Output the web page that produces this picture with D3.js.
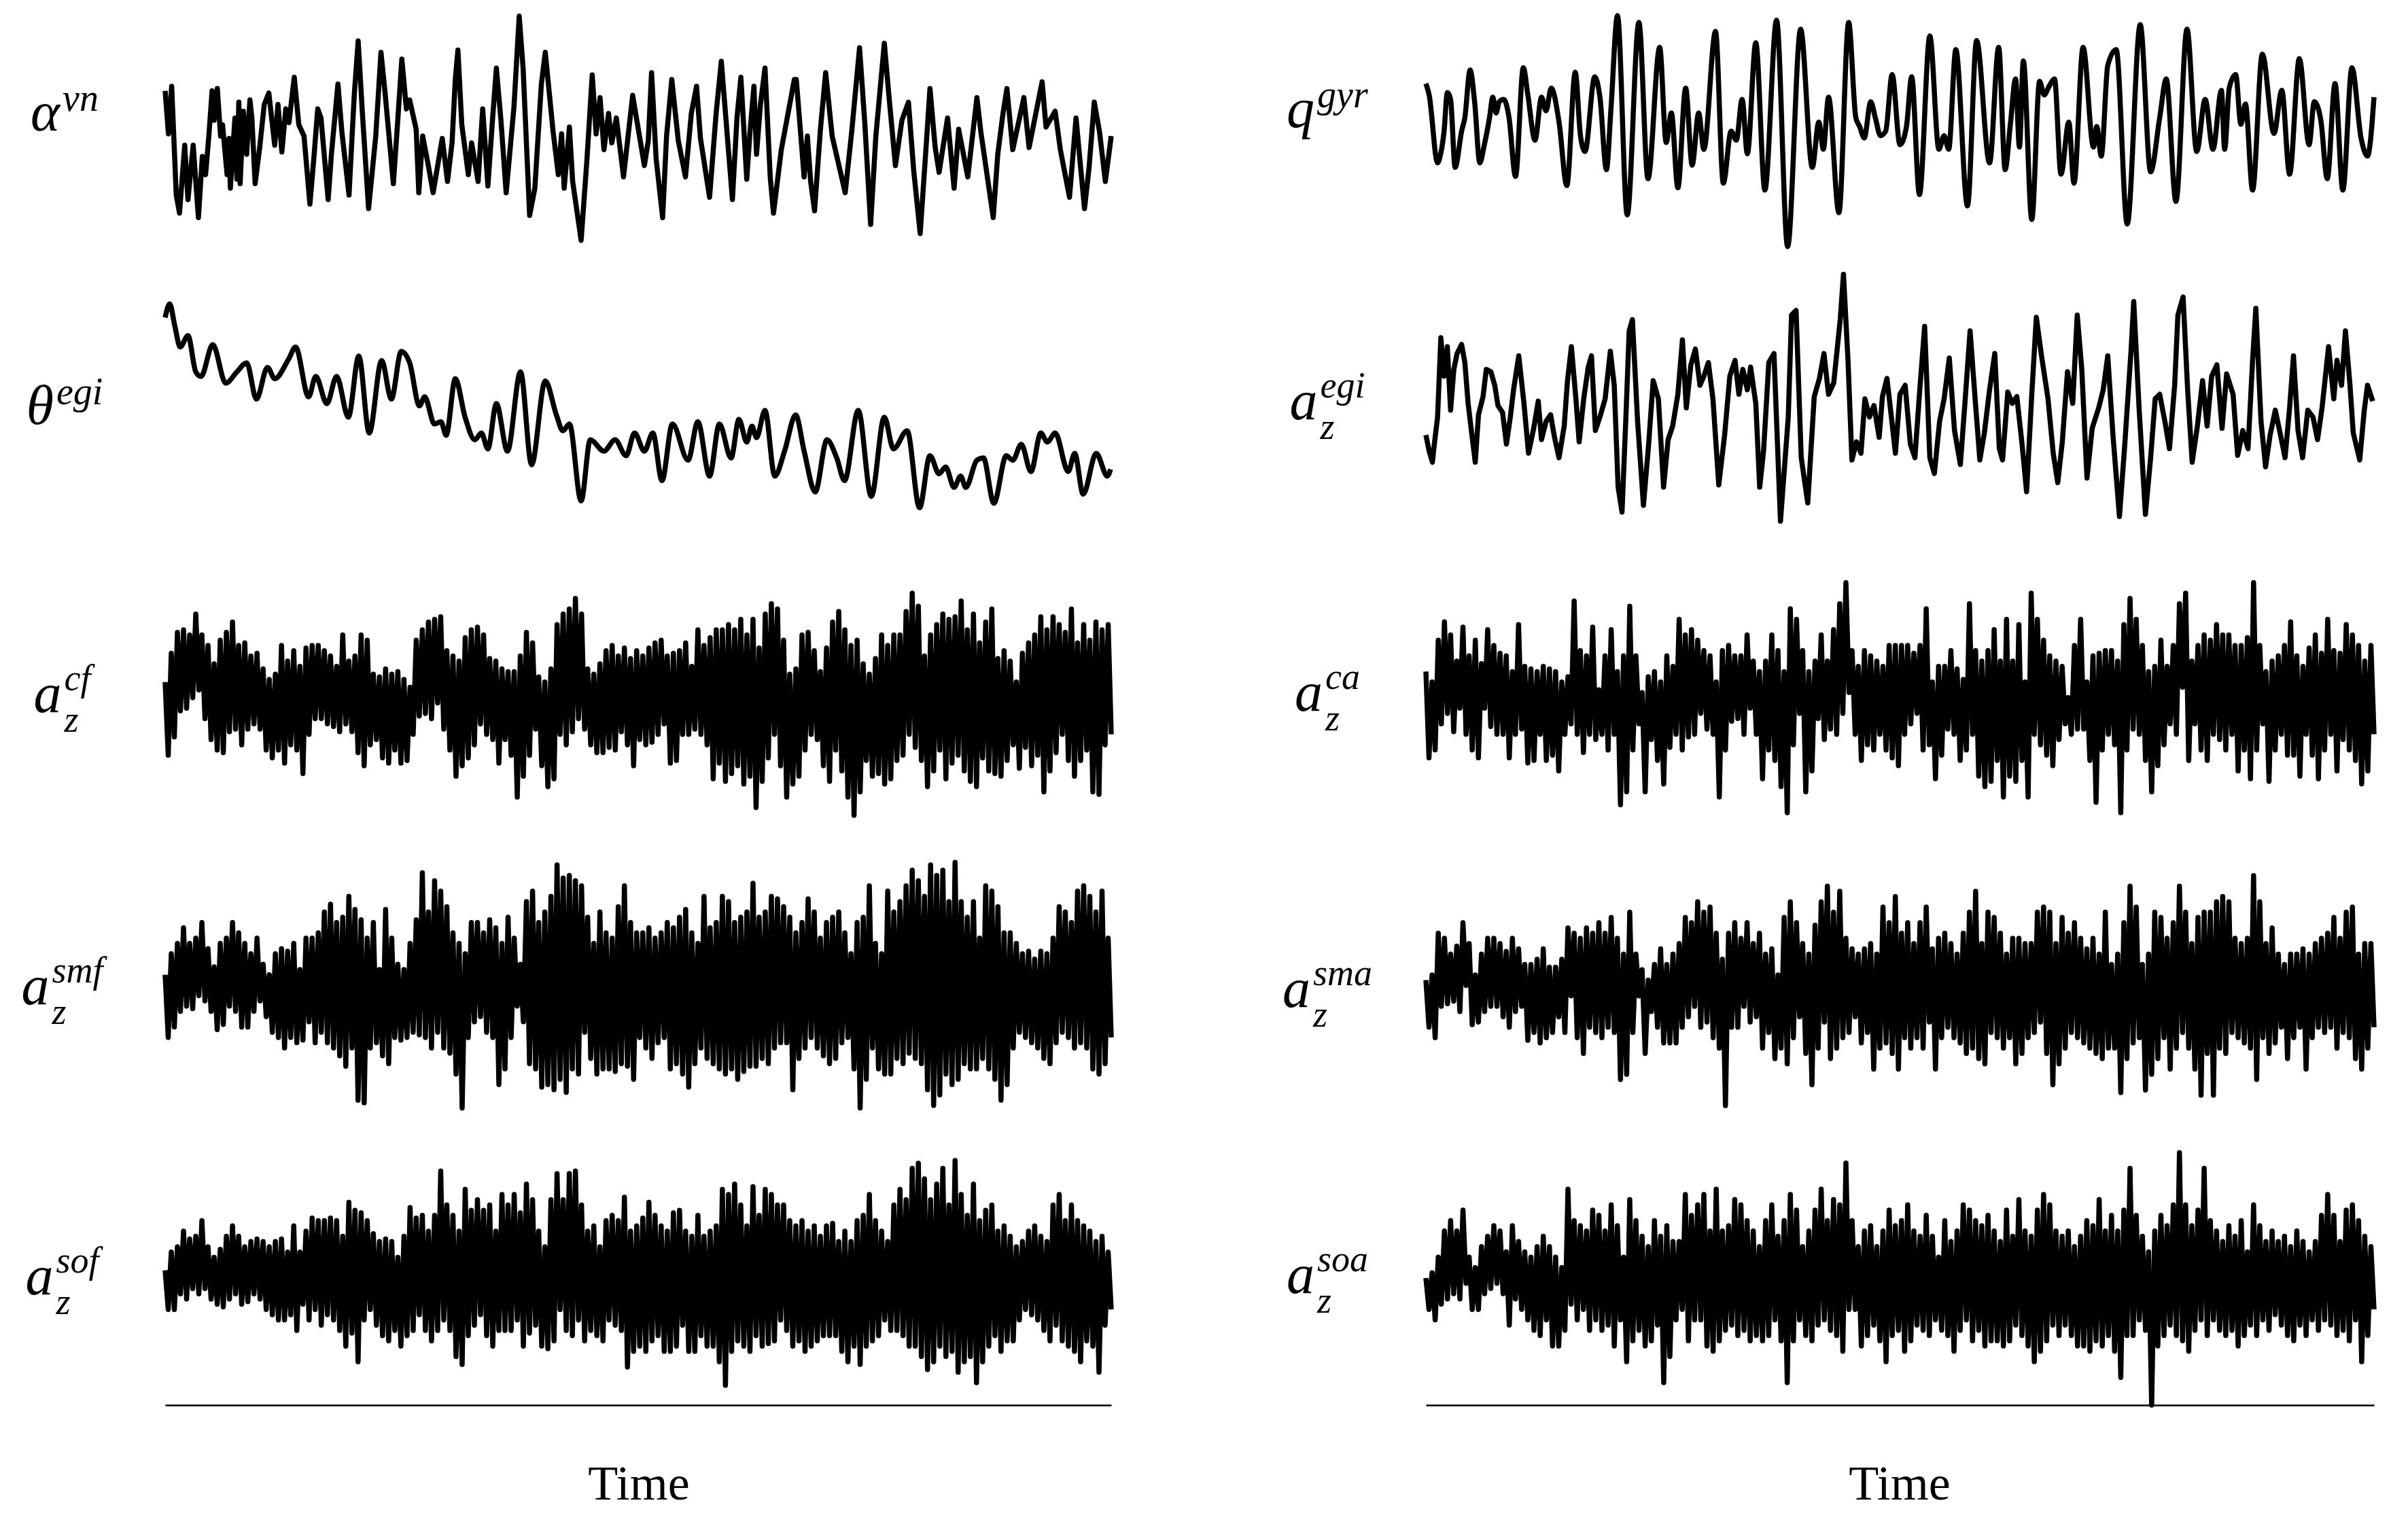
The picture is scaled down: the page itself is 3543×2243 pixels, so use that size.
<!DOCTYPE html>
<html><head><meta charset="utf-8">
<script src="https://cdn.jsdelivr.net/npm/d3@7"></script>
<style>html,body{margin:0;padding:0;background:#fff;} svg{display:block;}</style>
</head><body>
<script>
// ---------- DATA (arbitrary signal units) ----------
const categories = ["alpha_vn","theta_egi","az_cf","az_smf","az_sof","q_gyr","az_egi","az_ca","az_sma","az_soa"];
const labelMain = ["α","θ","a","a","a","q","a","a","a","a"];
const labelSup  = ["vn","egi","cf","smf","sof","gyr","egi","ca","sma","soa"];
const labelSub  = ["","","z","z","z","","z","z","z","z"];
const axisTitle = "Time";

// smooth signals: [time, value]
const alphaVn = [[0,16],[5,-3],[10,18],[17,-30],[22,-38],[30,-8],[35,-32],[43,-8],[51,-40],[57,-13],[62,-21],[67,-4],[72,16],[75,3],[80,17],[85,-4],[88,1],[95,-21],[98,-5],[100,-27],[107,4],[110,-23],[113,11],[115,-25],[120,7],[125,-12],[130,12],[133,4],[138,-25],[145,-9],[152,10],[159,15],[168,-8],[173,10],[179,-11],[185,8],[190,2],[198,22],[205,1],[213,-4],[222,-34],[228,-14],[234,8],[239,4],[250,-32],[255,-12],[265,19],[271,-2],[282,-30],[290,14],[296,38],[303,4],[312,-36],[323,-4],[331,33],[337,16],[350,-25],[357,4],[363,30],[370,8],[375,12],[385,-1],[389,-29],[395,-4],[403,-16],[411,-29],[425,-5],[433,-24],[440,-7],[445,21],[449,34],[455,1],[465,-21],[470,-7],[480,-24],[487,8],[495,-26],[502,3],[508,26],[515,3],[523,-29],[535,9],[543,49],[549,26],[559,-39],[567,-27],[577,19],[583,33],[595,-2],[603,-21],[608,-3],[612,-27],[620,0],[625,-24],[638,-50],[647,-14],[655,23],[661,-3],[667,13],[673,-10],[680,6],[685,-7],[692,4],[703,-22],[710,-4],[717,14],[735,-17],[741,-6],[746,24],[753,-14],[763,-40],[769,-4],[777,21],[787,-6],[798,-22],[807,6],[815,18],[821,-5],[835,-31],[845,6],[853,29],[870,-32],[877,4],[883,22],[892,-23],[897,-2],[903,18],[907,-12],[913,10],[920,26],[928,-22],[933,-38],[945,-10],[965,21],[968,21],[980,-22],[985,-4],[990,-24],[996,-37],[1005,-1],[1013,24],[1023,-4],[1043,-29],[1053,-2],[1065,35],[1073,2],[1082,-43],[1090,-4],[1103,37],[1110,14],[1120,-17],[1130,3],[1140,11],[1148,-19],[1158,-47],[1167,-9],[1173,17],[1181,-9],[1187,-20],[1200,4],[1210,-27],[1217,-1],[1231,-22],[1245,13],[1251,-2],[1270,-40],[1277,-12],[1285,6],[1291,17],[1300,-10],[1317,13],[1325,-9],[1345,20],[1351,0],[1365,7],[1373,-10],[1387,-31],[1397,4],[1410,-36],[1417,-18],[1425,11],[1433,-2],[1442,-24],[1451,-4]];

const thetaEgi = [[0,38],[7,44],[15,34],[23,25],[35,30],[47,14],[55,12],[73,26],[93,9],[110,14],[125,18],[140,2],[157,16],[168,11],[190,20],[200,25],[220,3],[231,12],[248,0],[263,12],[281,-6],[297,21],[313,-13],[332,19],[347,2],[362,23],[375,18],[390,-1],[398,3],[413,-9],[423,-8],[431,-14],[445,11],[460,-6],[475,-16],[485,-13],[495,-20],[508,0],[525,-21],[545,14],[562,-27],[583,10],[600,-5],[610,-12],[620,-9],[638,-43],[652,-16],[673,-21],[690,-16],[707,-23],[720,-13],[735,-21],[748,-13],[762,-34],[778,-9],[802,-25],[817,-8],[835,-32],[850,-9],[868,-24],[880,-7],[892,-17],[900,-10],[907,-15],[920,-3],[935,-32],[950,-21],[967,-5],[980,-21],[997,-39],[1015,-16],[1030,-24],[1042,-34],[1063,-3],[1083,-41],[1103,-6],[1117,-20],[1138,-12],[1157,-46],[1173,-23],[1187,-31],[1197,-28],[1210,-37],[1220,-32],[1228,-37],[1245,-25],[1255,-24],[1271,-44],[1290,-23],[1300,-25],[1313,-18],[1328,-30],[1343,-13],[1353,-17],[1365,-13],[1385,-30],[1395,-22],[1408,-40],[1428,-22],[1445,-32],[1450,-29]];

const qGyr = [[0,21],[5,16],[18,-14],[22,-11],[28,0],[33,17],[38,14],[45,-16],[55,0],[60,6],[68,27],[75,13],[83,-14],[90,-6],[98,6],[103,15],[108,8],[113,13],[120,14],[128,6],[138,-20],[150,28],[157,16],[168,-4],[178,15],[185,9],[193,19],[205,4],[217,-24],[230,26],[238,-2],[245,-9],[260,24],[268,15],[278,-17],[285,10],[295,51],[310,-37],[328,48],[342,-21],[360,37],[370,-5],[378,8],[388,-25],[400,19],[410,-15],[420,8],[428,-8],[446,44],[458,-23],[470,0],[478,-4],[487,14],[495,-10],[508,39],[522,-26],[540,49],[557,-51],[577,45],[595,-16],[605,4],[612,-8],[620,15],[636,-36],[651,48],[662,6],[668,2],[675,-3],[685,13],[692,6],[700,-2],[708,0],[718,25],[730,-6],[740,2],[748,24],[760,-28],[776,42],[790,-8],[798,-2],[805,-8],[816,36],[834,-33],[848,40],[868,-14],[882,37],[892,-17],[900,3],[908,23],[914,-7],[920,31],[933,-39],[945,22],[952,16],[960,20],[968,23],[978,-19],[990,4],[998,-23],[1012,37],[1028,-7],[1033,2],[1040,-11],[1050,29],[1063,36],[1080,-41],[1100,47],[1116,-18],[1130,6],[1140,23],[1155,-31],[1172,45],[1187,-9],[1200,14],[1212,-8],[1225,18],[1230,-8],[1237,19],[1247,25],[1255,3],[1262,12],[1273,-26],[1288,34],[1306,-1],[1318,18],[1330,-19],[1345,32],[1360,-6],[1368,13],[1378,5],[1388,-21],[1400,21],[1412,-26],[1426,28],[1440,-3],[1450,-11],[1460,15]];

const azEgi = [[0,-16],[5,-23],[10,-28],[13,-20],[18,-8],[23,27],[28,10],[33,23],[38,-5],[43,13],[48,20],[55,24],[60,16],[65,-2],[70,-14],[76,-28],[81,-7],[88,1],[93,13],[100,12],[106,6],[111,-3],[118,-6],[124,-20],[130,-8],[135,4],[143,19],[151,-2],[158,-24],[166,-13],[173,-1],[178,-18],[185,-10],[192,-7],[198,-17],[205,-26],[213,-12],[218,8],[224,23],[231,0],[236,-19],[243,0],[250,14],[255,19],[261,-14],[268,-8],[276,0],[284,21],[290,6],[296,-39],[302,-50],[308,-8],[313,30],[318,35],[326,-10],[335,-47],[343,-20],[350,8],[358,0],[366,-39],[373,-18],[380,-12],[388,2],[395,26],[401,-4],[408,15],[415,22],[422,6],[428,10],[435,16],[442,0],[451,-38],[460,-16],[468,10],[476,17],[482,2],[488,13],[495,4],[500,14],[508,-2],[514,-39],[520,-23],[528,16],[536,20],[546,-54],[558,-8],[563,37],[570,39],[578,-26],[588,-46],[598,1],[606,9],[613,20],[620,2],[628,7],[638,35],[643,55],[650,17],[656,-27],[663,-19],[670,-24],[676,0],[683,-8],[690,-3],[698,-17],[703,1],[710,9],[716,-6],[723,-24],[730,2],[738,6],[746,-20],[753,-26],[760,2],[768,32],[776,-26],[783,-33],[791,-10],[798,0],[806,18],[814,-14],[823,-29],[830,-2],[838,30],[846,-1],[853,-27],[860,-15],[868,4],[876,20],[883,-22],[888,-27],[896,3],[903,-2],[910,1],[918,-20],[925,-41],[933,2],[940,36],[948,19],[958,0],[966,-24],[973,-37],[980,-19],[988,12],[996,-2],[1003,37],[1010,13],[1018,-35],[1026,-13],[1036,-4],[1043,4],[1050,19],[1058,-16],[1068,-52],[1076,-21],[1086,22],[1090,43],[1098,-3],[1108,-51],[1116,-26],[1123,0],[1130,2],[1138,-10],[1145,-22],[1153,6],[1158,37],[1166,45],[1173,4],[1180,-28],[1188,-12],[1196,8],[1203,-12],[1210,10],[1218,15],[1226,-13],[1233,11],[1243,2],[1250,-25],[1258,-14],[1266,-22],[1273,17],[1278,40],[1286,-10],[1293,-30],[1300,-16],[1308,-5],[1316,-16],[1323,-26],[1330,-4],[1336,19],[1343,-14],[1350,-26],[1358,-5],[1366,-8],[1373,-18],[1380,-4],[1390,23],[1398,0],[1403,17],[1410,6],[1416,30],[1423,6],[1428,-15],[1438,-27],[1445,-5],[1450,6],[1458,-1]];

// dense signals: successive local maxima / minima, equally spaced in time
const cfPeaks = [47,102,142,147,137,177,137,117,82,127,142,162,117,122,97,102,72,52,62,117,87,107,77,112,117,117,107,97,77,137,87,97,137,127,62,57,72,62,67,52,37,127,147,162,167,172,107,97,87,132,147,152,137,92,87,72,67,67,97,142,122,57,47,72,157,177,187,207,177,72,62,82,107,117,97,112,92,107,97,112,122,127,97,102,107,122,77,147,117,132,147,147,157,147,167,137,167,112,177,197,187,127,62,72,137,142,107,67,112,162,182,147,117,127,82,62,92,137,117,137,137,182,217,192,97,137,157,177,167,172,202,147,177,122,162,187,92,107,87,47,102,122,137,172,147,172,157,142,187,122,157,127,162,147,157];
const cfTroughs = [-93,-58,-8,-3,17,32,-23,-63,-83,-88,-48,-43,-73,-43,-33,-43,-83,-98,-83,-108,-73,-83,-128,-53,-23,-23,-33,-38,-48,-33,-48,-88,-113,-73,-63,-98,-108,-83,-108,-103,-53,-18,-13,-23,7,-43,-83,-133,-113,-98,-73,-33,-53,-63,-108,-63,-93,-173,-133,-93,-43,-113,-153,-138,-53,-73,-48,-23,-43,-73,-88,-88,-78,-83,-48,-73,-113,-63,-73,-68,-53,-33,-108,-103,-53,-53,-43,-53,-73,-138,-108,-143,-128,-113,-148,-133,-193,-143,-98,-53,-113,-173,-148,-133,-83,-53,-63,-113,-143,-83,-123,-173,-208,-163,-103,-133,-128,-148,-138,-103,-93,-53,-78,-103,-153,-123,-83,-138,-108,-93,-123,-143,-153,-98,-123,-128,-133,-103,-73,-118,-78,-113,-93,-163,-123,-88,-53,-103,-133,-103,-83,-163,-168,-73,-53];

const smfPeaks = [20,60,80,110,80,90,120,70,35,80,90,120,100,80,60,90,40,20,60,70,65,80,30,90,90,100,140,155,120,130,170,145,125,90,120,30,145,90,40,30,80,125,215,140,200,180,150,100,80,60,120,120,100,125,110,80,130,90,40,160,180,120,140,170,230,205,210,200,190,130,80,140,100,90,150,190,120,100,100,110,90,100,120,110,130,145,100,80,170,110,120,170,160,120,130,140,195,130,140,170,165,150,130,100,120,165,140,90,120,130,140,100,60,120,130,190,80,60,180,140,160,190,220,200,170,230,210,220,160,235,160,130,160,90,190,180,150,100,100,80,60,65,50,65,60,90,150,140,120,180,190,170,140,180,90];
const smfTroughs = [-100,-80,-50,-40,-45,-20,-30,-50,-85,-75,-40,-50,-80,-80,-50,-30,-60,-90,-100,-120,-100,-110,-105,-70,-110,-90,-110,-120,-135,-155,-120,-220,-225,-120,-110,-135,-150,-100,-105,-100,-90,-95,-100,-120,-90,-120,-130,-170,-235,-100,-70,-60,-90,-100,-190,-160,-100,-40,-70,-150,-160,-195,-190,-200,-180,-205,-160,-170,-90,-140,-170,-160,-160,-165,-150,-155,-180,-100,-120,-140,-110,-100,-160,-150,-170,-195,-150,-120,-140,-150,-160,-170,-160,-180,-165,-155,-155,-140,-150,-120,-110,-110,-200,-140,-120,-100,-120,-135,-150,-140,-110,-100,-160,-235,-180,-120,-160,-170,-170,-140,-150,-130,-140,-150,-200,-230,-210,-170,-190,-180,-150,-160,-160,-140,-160,-180,-220,-190,-120,-90,-100,-110,-120,-140,-150,-110,-90,-100,-120,-110,-120,-160,-170,-150,-100];

const sofPeaks = [7,42,52,82,67,72,102,52,32,47,72,92,72,52,62,67,62,52,62,67,42,92,42,82,107,102,102,107,102,72,137,122,117,102,77,62,67,62,32,72,127,107,112,82,112,197,132,112,82,162,122,142,122,132,82,152,132,152,117,172,142,82,52,142,192,142,192,197,132,82,92,52,102,112,102,147,82,92,107,137,112,92,82,117,122,82,72,112,72,82,92,162,152,172,132,92,167,112,162,152,132,132,102,92,102,82,92,72,92,97,62,82,62,102,112,152,102,82,62,132,162,142,202,212,182,142,172,202,132,217,152,112,172,102,122,132,82,92,72,52,62,82,92,72,62,132,152,102,132,102,92,82,62,72,42];
const sofTroughs = [-68,-68,-38,-48,-28,-38,-28,-48,-58,-63,-48,-38,-58,-53,-38,-48,-68,-78,-88,-88,-78,-108,-58,-88,-68,-98,-78,-88,-108,-138,-113,-168,-88,-68,-98,-118,-128,-108,-138,-118,-108,-78,-108,-128,-108,-88,-108,-158,-173,-118,-98,-78,-118,-138,-108,-108,-108,-88,-138,-113,-98,-138,-143,-128,-68,-108,-118,-88,-128,-108,-118,-128,-88,-98,-108,-178,-148,-138,-148,-128,-118,-148,-148,-138,-98,-148,-148,-118,-138,-138,-168,-213,-148,-128,-138,-148,-118,-138,-133,-128,-88,-108,-138,-128,-148,-138,-128,-118,-118,-118,-148,-168,-138,-173,-138,-128,-118,-88,-108,-108,-118,-138,-138,-158,-183,-168,-138,-158,-148,-188,-168,-158,-208,-168,-138,-118,-148,-128,-128,-88,-68,-78,-88,-108,-128,-98,-128,-138,-148,-168,-128,-138,-188,-98,-68];

const caPeaks = [45,25,105,140,115,65,130,75,105,60,125,95,80,75,45,135,55,50,45,55,50,45,25,35,180,85,75,130,10,75,125,45,75,170,75,5,35,45,25,75,55,145,115,125,105,85,75,25,85,95,75,75,115,65,45,65,115,85,45,165,145,85,45,65,115,65,125,175,215,85,55,85,75,65,55,95,95,95,95,80,95,165,25,55,55,85,50,30,175,85,65,85,125,65,145,65,135,25,195,145,105,75,65,55,-5,95,145,25,75,80,85,85,65,135,185,145,95,45,55,105,55,95,175,195,65,95,115,105,135,115,115,95,95,110,215,95,45,65,75,95,140,75,55,90,115,80,145,85,80,135,115,95,65,95];
const caTroughs = [-120,-105,-55,-35,-70,-25,-75,-105,-120,-25,-60,-75,-75,-120,-75,-65,-130,-125,-75,-125,-115,-145,-75,-55,-75,-110,-75,-85,-75,-105,-75,-210,-185,-105,-55,-185,-85,-125,-170,-100,-75,-105,-80,-75,-35,-65,-75,-195,-105,-50,-45,-75,-25,-75,-160,-105,-125,-175,-225,-95,-35,-185,-145,-45,-85,-65,-75,-35,5,-75,-125,-95,-105,-75,-105,-120,-135,-75,-55,-35,-105,-95,-160,-115,-65,-75,-125,-105,-75,-155,-175,-165,-125,-195,-155,-165,-125,-195,-75,-95,-115,-135,-85,-55,-75,-65,-65,-125,-205,-105,-75,-95,-225,-105,-65,-75,-125,-185,-135,-95,-55,-75,15,-125,-55,-105,-125,-75,-85,-105,-75,-145,-105,-160,-105,-55,-165,-105,-75,-115,-115,-155,-75,-115,-160,-105,-75,-145,-85,-105,-125,-170,-145,-75];

const smaPeaks = [20,30,110,100,70,85,130,90,30,70,100,100,90,75,100,80,50,50,60,80,45,45,60,120,110,100,120,110,130,110,140,100,70,150,70,40,20,50,80,50,70,90,140,130,170,150,160,110,60,110,130,100,130,90,110,70,80,30,140,170,130,90,70,125,170,200,150,190,100,80,70,80,90,70,160,130,180,110,130,90,130,160,80,100,110,90,70,110,150,190,90,150,140,110,70,100,100,90,90,150,160,150,90,140,110,130,100,80,100,70,150,50,70,130,200,160,50,70,150,140,100,130,200,150,90,140,150,150,170,180,170,100,90,100,220,170,90,120,70,50,70,70,80,70,90,100,110,140,100,150,160,70,90,90];
const smaTroughs = [-70,-90,-30,-25,-20,-40,10,-65,-60,-40,-30,-30,-50,-70,-40,-30,-95,-80,-100,-90,-80,-50,-80,-10,-90,-120,-70,-80,-90,-70,-80,-170,-160,-80,-10,-120,-40,-70,-100,-100,-100,-70,-50,-30,-70,-60,-90,-110,-220,-70,-70,-30,-60,-50,-110,-80,-130,-110,-140,-90,-50,-120,-180,-110,-60,-130,-110,-90,-80,-50,-100,-80,-150,-110,-100,-120,-150,-90,-110,-90,-110,-60,-150,-90,-70,-90,-100,-120,-110,-130,-140,-80,-90,-110,-90,-140,-120,-90,-80,-60,-120,-180,-140,-110,-80,-90,-100,-110,-120,-130,-110,-110,-195,-130,-100,-90,-190,-160,-130,-90,-150,-110,-80,-110,-150,-200,-120,-200,-110,-120,-80,-90,-100,-110,-170,-90,-120,-100,-70,-130,-90,-70,-150,-90,-70,-80,-70,-110,-80,-90,-130,-150,-110,-70];

const soaPeaks = [0,10,40,90,110,90,130,40,20,60,80,100,90,50,100,70,50,40,60,80,60,40,20,170,110,100,90,130,120,90,140,100,40,150,110,80,60,110,80,100,70,70,160,120,140,160,90,170,90,100,150,140,110,90,60,110,140,80,110,160,130,60,90,130,170,110,150,140,220,110,60,90,100,60,90,130,100,110,140,90,80,120,80,40,110,70,90,140,130,110,100,120,90,70,130,80,150,90,80,130,160,140,90,80,90,60,80,110,100,150,90,120,90,130,210,120,80,50,90,120,100,140,240,140,100,130,210,110,90,70,100,80,110,50,140,100,70,90,70,80,60,90,70,50,70,120,160,120,70,130,140,110,80,60];
const soaTroughs = [-60,-80,-50,-40,-30,-40,-10,-60,-60,-30,-20,-10,-30,-90,-40,-60,-80,-100,-110,-80,-130,-130,-100,-50,-80,-60,-100,-80,-100,-90,-130,-80,-160,-120,-100,-130,-120,-90,-200,-150,-80,-60,-120,-80,-80,-130,-140,-120,-100,-90,-110,-100,-120,-110,-120,-110,-80,-120,-200,-120,-80,-110,-120,-90,-80,-100,-110,-140,-60,-60,-130,-110,-90,-120,-160,-110,-100,-140,-120,-90,-100,-110,-80,-100,-110,-140,-100,-80,-120,-100,-130,-120,-120,-130,-120,-90,-110,-130,-160,-140,-120,-90,-110,-90,-110,-130,-130,-140,-120,-130,-110,-140,-190,-110,-110,-80,-100,-243,-130,-110,-90,-110,-120,-140,-100,-80,-110,-80,-100,-110,-100,-130,-110,-90,-110,-80,-100,-70,-90,-110,-120,-90,-110,-80,-100,-80,-90,-110,-100,-120,-80,-160,-110,-60];

// ---------- LAYOUT ----------
const W = 3543, H = 2243;
const svg = d3.select("body").append("svg").attr("width", W).attr("height", H).attr("viewBox", `0 0 ${W} ${H}`);
svg.append("rect").attr("width", W).attr("height", H).attr("fill", "#fff");

const serif = "'Liberation Serif', 'Times New Roman', Times, serif";
const panels = [
  {range:[243,1635], tDomain:[0,1451], labelX:95,   axisY:2068, titleX:940},
  {range:[2098,3493], tDomain:[0,1460], labelX:1953, axisY:2068, titleX:2795}
];

const dense = (p, t) => d3.merge(d3.zip(p, t)).map((v, i) => [i, v]);

const rows = [
  {panel:0, center:187,  base:192,  kind:"smooth", curve:d3.curveLinear,     data:alphaVn},
  {panel:0, center:594,  base:624,  kind:"smooth", curve:d3.curveMonotoneX,  data:thetaEgi},
  {panel:0, center:1040, base:1048, kind:"dense",  data:dense(cfPeaks, cfTroughs)},
  {panel:0, center:1450, base:1478, kind:"dense",  data:dense(smfPeaks, smfTroughs)},
  {panel:0, center:1875, base:1905, kind:"dense",  data:dense(sofPeaks, sofTroughs)},
  {panel:1, center:193,  base:187,  kind:"smooth", curve:d3.curveMonotoneX,  data:qGyr},
  {panel:1, center:587,  base:617,  kind:"smooth", curve:d3.curveLinear,     data:azEgi},
  {panel:1, center:1023, base:1046, kind:"dense",  data:dense(caPeaks, caTroughs)},
  {panel:1, center:1458, base:1482, kind:"dense",  data:dense(smaPeaks, smaTroughs)},
  {panel:1, center:1881, base:1903, kind:"dense",  data:dense(soaPeaks, soaTroughs)}
];

rows.forEach((r, i) => {
  const P = panels[r.panel];
  let x, y;
  if (r.kind === "smooth") {
    x = d3.scaleLinear().domain(P.tDomain).range(P.range);
    y = d3.scaleLinear().domain([-60, 60]).range([r.center + 200, r.center - 200]);
  } else {
    x = d3.scaleLinear().domain([0, r.data.length - 1]).range(P.range);
    y = d3.scaleLinear().domain([-260, 260]).range([r.center + 200, r.center - 200]);
  }
  const line = d3.line().x(d => x(d[0])).y(d => y(d[1])).curve(r.curve || d3.curveLinear);
  svg.append("path").datum(r.data)
    .attr("d", line)
    .attr("fill", "none")
    .attr("stroke", "#000")
    .attr("stroke-width", 7.5)
    .attr("stroke-linejoin", "round")
    .attr("stroke-linecap", "butt");

  // label: one text element, sub and sup stacked with tspans
  const t = svg.append("text").attr("x", 0).attr("y", r.base)
    .style("font-family", serif).style("font-style", "italic")
    .attr("font-size", 82).attr("fill", "#000");
  t.append("tspan").text(labelMain[i]);
  if (labelSub[i]) {
    const s = t.append("tspan").attr("font-size", 54).attr("dx", 4).attr("dy", 29).text(labelSub[i]);
    const sw = s.node().getComputedTextLength();
    t.append("tspan").attr("font-size", 54).attr("dx", -sw).attr("dy", -61).text(labelSup[i]);
  } else {
    t.append("tspan").attr("font-size", 56).attr("dx", 4).attr("dy", -29).text(labelSup[i]);
  }
  const bb = t.node().getBBox();
  t.attr("x", P.labelX - bb.width / 2);
});

// bottom axes (baseline only) and titles
panels.forEach(P => {
  const x = d3.scaleLinear().domain(P.tDomain).range(P.range);
  const ax = svg.append("g").attr("transform", `translate(0,${P.axisY})`)
    .call(d3.axisBottom(x).tickValues([]).tickSizeOuter(0));
  ax.select(".domain").attr("stroke", "#000").attr("stroke-width", 2.5);
  svg.append("text").attr("x", P.titleX).attr("y", 2207)
    .attr("text-anchor", "middle")
    .style("font-family", serif)
    .attr("font-size", 72).attr("fill", "#000").text(axisTitle);
});
</script>
</body></html>
